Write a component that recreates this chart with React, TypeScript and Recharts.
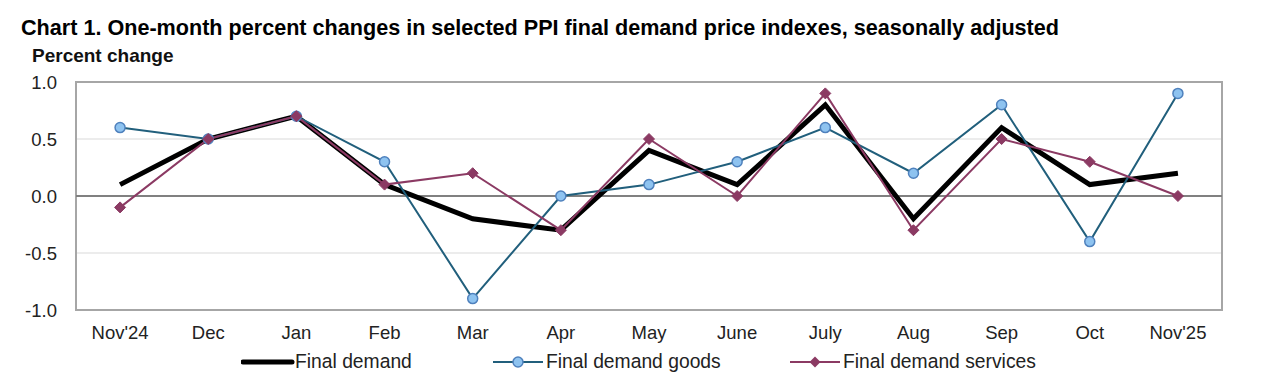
import { LineChart, Line, XAxis, YAxis, CartesianGrid, ReferenceLine, ReferenceArea } from "recharts";

const months = ["Nov'24", "Dec", "Jan", "Feb", "Mar", "Apr", "May", "June", "July", "Aug", "Sep", "Oct", "Nov'25"];
const finalDemand = [0.1, 0.5, 0.7, 0.1, -0.2, -0.3, 0.4, 0.1, 0.8, -0.2, 0.6, 0.1, 0.2];
const finalGoods = [0.6, 0.5, 0.7, 0.3, -0.9, 0.0, 0.1, 0.3, 0.6, 0.2, 0.8, -0.4, 0.9];
const finalServices = [-0.1, 0.5, 0.7, 0.1, 0.2, -0.3, 0.5, 0.0, 0.9, -0.3, 0.5, 0.3, 0.0];
const yTicks = [-1.0, -0.5, 0.0, 0.5, 1.0];

const data = months.map((m, i) => ({
  month: m,
  demand: finalDemand[i],
  goods: finalGoods[i],
  services: finalServices[i],
}));

const FONT = '"Liberation Sans", Arial, sans-serif';
const GOODS = "#215f7c";
const GOODS_FILL = "#8ec3f0";
const GOODS_EDGE = "#4f81bd";
const SERVICES = "#8b3a63";

// diamond marker for services
function Diamond(props: any) {
  const { cx, cy } = props;
  if (cx == null || cy == null) return null;
  const s = 5.5;
  return (
    <polygon
      points={`${cx},${cy - s} ${cx + s},${cy} ${cx},${cy + s} ${cx - s},${cy}`}
      fill={SERVICES}
      stroke={SERVICES}
      strokeWidth={1}
    />
  );
}

function LegendItem({ kind, label }: { kind: "demand" | "goods" | "services"; label: string }) {
  return (
    <div style={{ display: "flex", alignItems: "center" }}>
      <svg width={54} height={14}>
        {kind === "demand" && <line x1={2} y1={7} x2={51} y2={7} stroke="#000" strokeWidth={5} strokeLinecap="round" />}
        {kind === "goods" && (
          <>
            <line x1={1} y1={7} x2={51} y2={7} stroke={GOODS} strokeWidth={2} />
            <circle cx={26} cy={7} r={5} fill={GOODS_FILL} stroke={GOODS_EDGE} strokeWidth={1.5} />
          </>
        )}
        {kind === "services" && (
          <>
            <line x1={1} y1={7} x2={51} y2={7} stroke={SERVICES} strokeWidth={2} />
            <polygon points="26,1.5 31.5,7 26,12.5 20.5,7" fill={SERVICES} />
          </>
        )}
      </svg>
      <span style={{ fontSize: 19.3, color: "#222" }}>{label}</span>
    </div>
  );
}

export default function App() {
  return (
    <div
      style={{
        position: "absolute",
        left: 0,
        top: 0,
        width: 1280,
        height: 392,
        background: "#fff",
        fontFamily: FONT,
        overflow: "hidden",
      }}
    >
      <div style={{ position: "absolute", left: 21, top: 15, fontSize: 21.6, lineHeight: "normal", fontWeight: "bold", color: "#000", whiteSpace: "nowrap" }}>
        Chart 1. One-month percent changes in selected PPI final demand price indexes, seasonally adjusted
      </div>
      <div style={{ position: "absolute", left: 32, top: 45, fontSize: 19, fontWeight: "bold", color: "#111" }}>
        Percent change
      </div>

      <div style={{ position: "absolute", left: 0, top: 0 }}>
        <LineChart width={1280} height={392} data={data} margin={{ top: 82, right: 58, left: 0, bottom: 52 }}>
          <CartesianGrid vertical={false} stroke="#d9d9d9" strokeWidth={1} />
          <XAxis
            dataKey="month"
            scale="band"
            axisLine={false}
            tickLine={false}
            tickSize={6}
            tickMargin={10}
            interval={0}
            tick={{ fontSize: 18.5, fill: "#222", fontFamily: FONT }}
          />
          <YAxis
            width={76}
            domain={[-1, 1]}
            ticks={yTicks}
            tickFormatter={(v: number) => v.toFixed(1)}
            axisLine={false}
            tickLine={false}
            tickSize={6}
            tickMargin={13}
            tick={{ fontSize: 18.5, fill: "#222", fontFamily: FONT }}
          />
          <ReferenceLine y={0} stroke="#808080" strokeWidth={2} />
          <Line
            dataKey="demand"
            stroke="#000"
            strokeWidth={5}
            dot={false}
            type="linear"
            isAnimationActive={false}
          />
          <Line
            dataKey="goods"
            stroke={GOODS}
            strokeWidth={2}
            dot={{ r: 5, fill: GOODS_FILL, stroke: GOODS_EDGE, strokeWidth: 1.5 }}
            type="linear"
            isAnimationActive={false}
          />
          <Line
            dataKey="services"
            stroke={SERVICES}
            strokeWidth={2}
            dot={<Diamond />}
            type="linear"
            isAnimationActive={false}
          />
          <ReferenceArea y1={-1} y2={1} fill="none" stroke="#a6a6a6" strokeWidth={2} />
        </LineChart>
      </div>

      <div style={{ position: "absolute", left: 241, top: 351 }}>
        <LegendItem kind="demand" label="Final demand" />
      </div>
      <div style={{ position: "absolute", left: 492, top: 351 }}>
        <LegendItem kind="goods" label="Final demand goods" />
      </div>
      <div style={{ position: "absolute", left: 789, top: 351 }}>
        <LegendItem kind="services" label="Final demand services" />
      </div>
    </div>
  );
}
